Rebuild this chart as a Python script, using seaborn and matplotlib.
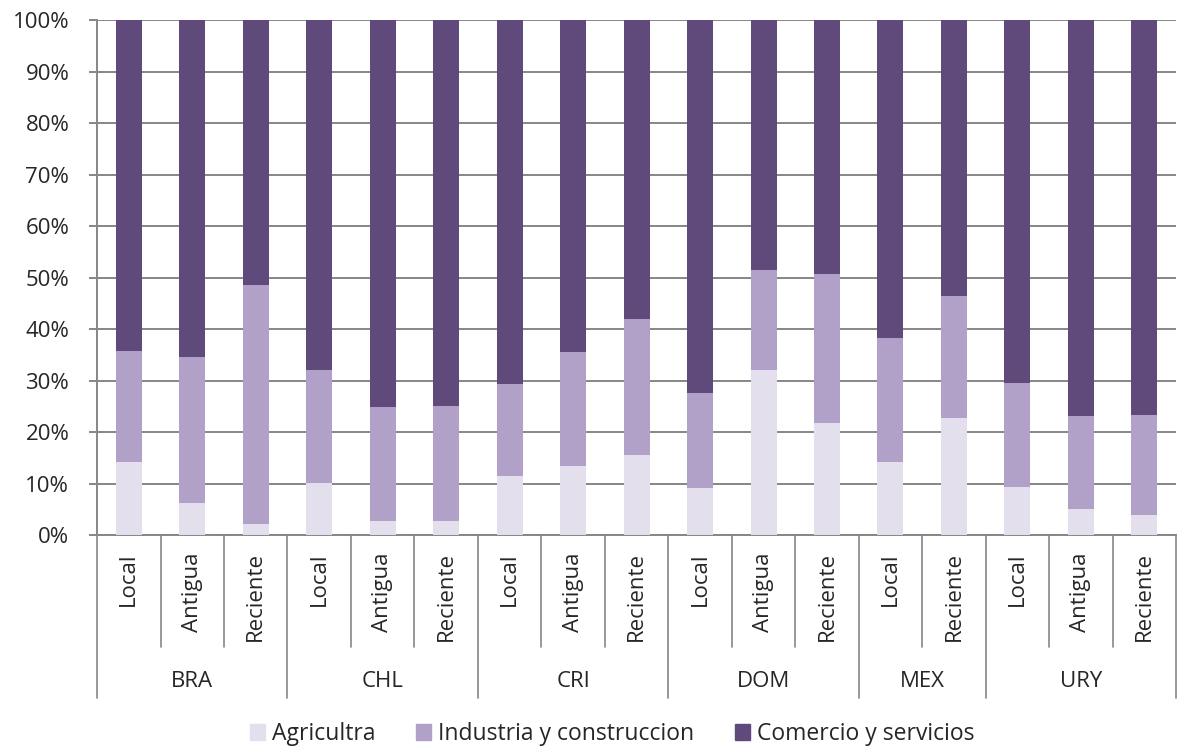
#! /usr/bin/env python3

import seaborn as sns
import matplotlib.pyplot as plt
import matplotlib.patches as mpatches
import matplotlib.transforms as mtransforms
import pandas as pd

# data (percent)
COUNTRIES = ["BRA", "CHL", "CRI", "DOM", "MEX", "URY"]
GROUPS = [
    ["Local", "Antigua", "Reciente"],
    ["Local", "Antigua", "Reciente"],
    ["Local", "Antigua", "Reciente"],
    ["Local", "Antigua", "Reciente"],
    ["Local", "Reciente"],
    ["Local", "Antigua", "Reciente"],
]
AGRICULTRA = [14.2, 6.2, 2.1, 10.2, 2.7, 2.8, 11.5, 13.4, 15.5, 9.1, 32.0, 21.7, 14.2, 22.7, 9.3, 5.0, 3.9]
INDUSTRIA = [21.5, 28.4, 46.4, 21.8, 22.2, 22.2, 17.8, 22.1, 26.4, 18.5, 19.5, 29.0, 24.1, 23.8, 20.3, 18.2, 19.5]
COMERCIO = [64.3, 65.4, 51.5, 68.0, 75.1, 75.0, 70.7, 64.5, 58.1, 72.4, 48.5, 49.3, 61.7, 53.5, 70.4, 76.8, 76.6]
SERIES_LABELS = ["Agricultra", "Industria y construccion", "Comercio y servicios"]
Y_TICKS = [0, 10, 20, 30, 40, 50, 60, 70, 80, 90, 100]

CONFIG_COLOURS = ["#E4DFEC", "#B1A0C7", "#604A7B"]
CONFIG_GRID = "#868686"
CONFIG_FONT = ["Open Sans", "DejaVu Sans"]
CONFIG_FONTSIZE = 16
CONFIG_BAR_WIDTH = 0.41


def main():
    # build the table
    keys, subs = [], []
    for country, group in zip(COUNTRIES, GROUPS):
        for sub in group:
            keys.append(f"{country}-{sub}")
            subs.append(sub)
    df = pd.DataFrame({
        "key": keys,
        "sub": subs,
        "agri": AGRICULTRA,
        "ind": INDUSTRIA,
        "com": COMERCIO,
    })
    df["cum_ind"] = df["agri"] + df["ind"]
    df["cum_com"] = df["cum_ind"] + df["com"]

    sns.set_style("white")
    plt.rcParams["font.family"] = CONFIG_FONT

    fig = plt.figure(figsize=(11.82, 7.46), dpi=100)
    ax = fig.add_axes([0.0821, 0.2828, 0.9129, 0.6903])

    # stacked bars: draw the tallest first
    for col, colour in zip(["cum_com", "cum_ind", "agri"], CONFIG_COLOURS[::-1]):
        sns.barplot(data=df, x="key", y=col, color=colour, saturation=1,
                    width=CONFIG_BAR_WIDTH, linewidth=0, ax=ax, zorder=3)

    n = len(df)
    ax.set_xlim(-0.5, n - 0.5)
    ax.set_ylim(0, 100)
    ax.set_yticks(Y_TICKS)
    ax.set_yticklabels([f"{t}%" for t in Y_TICKS], fontsize=CONFIG_FONTSIZE)
    ax.set_xticks([])
    ax.set_xlabel("")
    ax.set_ylabel("")
    ax.yaxis.grid(True, color=CONFIG_GRID, linewidth=1.4)
    ax.set_axisbelow(True)
    ax.tick_params(axis="y", length=6, width=1.4, color=CONFIG_GRID, pad=14, left=True)
    for side in ["top", "right"]:
        ax.spines[side].set_visible(False)
    for side in ["left", "bottom"]:
        ax.spines[side].set_color(CONFIG_GRID)
        ax.spines[side].set_linewidth(1.4)

    # multi level category axis
    trans = mtransforms.blended_transform_factory(ax.transData, ax.transAxes)
    sub_depth = -0.2175
    grp_depth = -0.3165
    boundaries = set()
    pos = 0
    for country, group in zip(COUNTRIES, GROUPS):
        start = pos
        for sub in group:
            ax.text(pos, -0.033, sub, rotation=90, ha="center", va="top",
                    fontsize=CONFIG_FONTSIZE, transform=trans)
            pos += 1
        boundaries.add(start - 0.5)
        ax.text((start + pos - 1) / 2, -0.285, country, ha="center", va="center",
                fontsize=CONFIG_FONTSIZE, transform=trans)
    boundaries.add(n - 0.5)
    for b in range(n + 1):
        x = b - 0.5
        depth = grp_depth if x in boundaries else sub_depth
        ax.plot([x, x], [0, depth], color=CONFIG_GRID, linewidth=1.2,
                transform=trans, clip_on=False)

    # legend
    handles = [mpatches.Patch(color=c, label=l) for c, l in zip(CONFIG_COLOURS, SERIES_LABELS)]
    fig.legend(handles=handles, loc="center", bbox_to_anchor=(0.518, 0.016), ncol=3,
               frameon=False, fontsize=16.5, handlelength=0.65,
               handleheight=0.65, handletextpad=0.3, columnspacing=1.8,
               borderpad=0, borderaxespad=0)

    fig.savefig("out.png", dpi=100)


if __name__ == "__main__":
    main()
